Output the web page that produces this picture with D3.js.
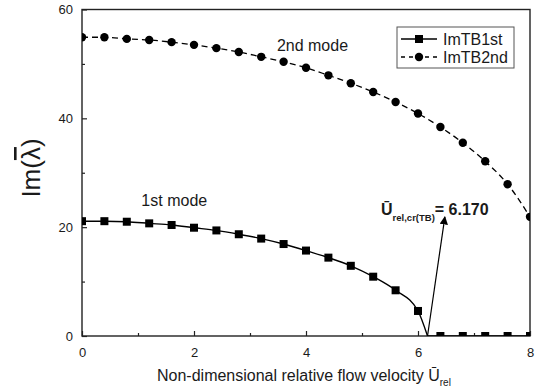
<!DOCTYPE html>
<html><head><meta charset="utf-8">
<script src="https://cdn.jsdelivr.net/npm/d3@7"></script>
<style>
body{margin:0;background:#fff;}
text{font-family:"Liberation Sans",Arial,sans-serif;fill:#1a1a1a;}
</style></head>
<body><svg id="c" width="542" height="392"></svg>
<script>
const velocity = [0,0.4,0.8,1.2,1.6,2.0,2.4,2.8,3.2,3.6,4.0,4.4,4.8,5.2,5.6,6.0,6.4,6.8,7.2,7.6,8.0];
const imTB1st = [21.1,21.1,21.0,20.7,20.4,19.9,19.4,18.7,17.9,16.9,15.7,14.4,12.9,10.9,8.4,4.6,0,0,0,0,0];
const imTB2nd = [54.9,54.9,54.6,54.4,54.0,53.5,52.9,52.2,51.3,50.4,49.3,47.9,46.45,44.85,43.0,40.9,38.4,35.5,32.1,27.9,21.9];
const criticalVelocity = 6.170;
const xTicks = [0,2,4,6,8];
const xMinor = [1,3,5,7];
const yTicks = [0,20,40,60];
const yMinor = [10,30,50];
const seriesNames = ["ImTB1st","ImTB2nd"];

const svg = d3.select("#c");
const L=82,R=530,T=9.5,B=336;
const x = d3.scaleLinear().domain([0,8]).range([L,R]);
const y = d3.scaleLinear().domain([0,60]).range([B,T]);

svg.append("clipPath").attr("id","clip").append("rect")
  .attr("x",L).attr("y",T).attr("width",R-L).attr("height",B-T);

// frame
svg.append("rect").attr("x",L).attr("y",T).attr("width",R-L).attr("height",B-T)
  .attr("fill","none").attr("stroke","#222").attr("stroke-width",1.4);

// ticks (inward)
const gx = svg.append("g").attr("transform",`translate(0,${B})`)
  .call(d3.axisBottom(x).tickValues(xTicks).tickSizeInner(-5).tickSizeOuter(0).tickPadding(12).tickFormat(d3.format("d")));
const gxm = svg.append("g").attr("transform",`translate(0,${B})`)
  .call(d3.axisBottom(x).tickValues(xMinor).tickSizeInner(-3).tickSizeOuter(0).tickFormat(""));
const gy = svg.append("g").attr("transform",`translate(${L},0)`)
  .call(d3.axisLeft(y).tickValues(yTicks).tickSizeInner(-5).tickSizeOuter(0).tickPadding(9).tickFormat(d3.format("d")));
const gym = svg.append("g").attr("transform",`translate(${L},0)`)
  .call(d3.axisLeft(y).tickValues(yMinor).tickSizeInner(-3).tickSizeOuter(0).tickFormat(""));
[gx,gxm,gy,gym].forEach(g=>{
  g.select(".domain").remove();
  g.selectAll("line").attr("stroke","#222").attr("stroke-width",1.2);
  g.selectAll("text").attr("font-size",13).attr("fill","#333").style("font-family","'Liberation Sans',Arial,sans-serif");
});

const plot = svg.append("g").attr("clip-path","url(#clip)");

// 1st mode curve to critical point
const pts1 = velocity.map((v,i)=>[v,imTB1st[i]]).filter(d=>d[0]<criticalVelocity);
pts1.push([criticalVelocity,0]);
const line = d3.line().x(d=>x(d[0])).y(d=>y(d[1]));
plot.append("path").datum(pts1).attr("fill","none").attr("stroke","#000").attr("stroke-width",1.4)
  .attr("d",line.curve(d3.curveMonotoneX));
const zeroPts = [[criticalVelocity,0]].concat(velocity.map((v,i)=>[v,imTB1st[i]]).filter(d=>d[0]>criticalVelocity));
plot.append("path").datum(zeroPts).attr("fill","none").attr("stroke","#000").attr("stroke-width",1.4)
  .attr("d",d3.line().x(d=>x(d[0])).y(d=>y(d[1])));

// 2nd mode dashed
const pts2 = velocity.map((v,i)=>[v,imTB2nd[i]]);
plot.append("path").datum(pts2).attr("fill","none").attr("stroke","#000").attr("stroke-width",1.3)
  .attr("stroke-dasharray","6,4")
  .attr("d",d3.line().x(d=>x(d[0])).y(d=>y(d[1])).curve(d3.curveMonotoneX));

// markers
const sq=8;
plot.selectAll("rect.m1").data(velocity.map((v,i)=>[v,imTB1st[i]])).enter().append("rect")
  .attr("x",d=>x(d[0])-sq/2).attr("y",d=>y(d[1])-sq/2).attr("width",sq).attr("height",sq).attr("fill","#000");
plot.selectAll("circle.m2").data(pts2).enter().append("circle")
  .attr("cx",d=>x(d[0])).attr("cy",d=>y(d[1])).attr("r",4.2).attr("fill","#000");

// mode labels
svg.append("text").attr("x",x(3.48)).attr("y",y(52.3)).attr("font-size",16).text("2nd mode");
svg.append("text").attr("x",x(1.06)).attr("y",y(23.9)).attr("font-size",16).text("1st mode");

// arrow
svg.append("defs").append("marker").attr("id","ah").attr("viewBox","0 0 10 10").attr("refX",9).attr("refY",5)
  .attr("markerWidth",7).attr("markerHeight",7).attr("orient","auto")
  .append("path").attr("d","M0,0 L10,5 L0,10 z").attr("fill","#000");
svg.append("line").attr("x1",x(criticalVelocity)).attr("y1",y(0)).attr("x2",x(6.48)).attr("y2",y(21.9))
  .attr("stroke","#000").attr("stroke-width",1.2).attr("marker-end","url(#ah)");
const ann = svg.append("text").attr("x",x(5.34)).attr("y",y(22.2)).attr("font-weight","bold").attr("font-size",16);
ann.append("tspan").text("\u016A");
ann.append("tspan").attr("font-size",9.5).attr("dy",6).text("rel,cr(TB)");
ann.append("tspan").attr("dy",-6).text("= " + criticalVelocity.toFixed(3));

// legend
const lg = svg.append("g");
lg.append("rect").attr("x",397).attr("y",27).attr("width",117).attr("height",41)
  .attr("fill","#fff").attr("stroke","#555").attr("stroke-width",1);
[0,1].forEach(i=>{
  const yy = 39+i*18;
  lg.append("line").attr("x1",401).attr("x2",437).attr("y1",yy).attr("y2",yy).attr("stroke","#000")
    .attr("stroke-width",1.3).attr("stroke-dasharray",i? "4,4":null);
  if(i===0) lg.append("rect").attr("x",419-sq/2).attr("y",yy-sq/2).attr("width",sq).attr("height",sq).attr("fill","#000");
  else lg.append("circle").attr("cx",419).attr("cy",yy).attr("r",4.2).attr("fill","#000");
  lg.append("text").attr("x",443).attr("y",yy+6).attr("font-size",16).text(seriesNames[i]);
});

// axis titles
const xt = svg.append("text").attr("x",157).attr("y",381).attr("font-size",16);
xt.append("tspan").text("Non-dimensional relative flow velocity \u016A");
xt.append("tspan").attr("font-size",10).attr("dy",5).text("rel");

const yt = svg.append("text").attr("transform","translate(40,168) rotate(-90)").attr("text-anchor","middle")
  .attr("font-size",26);
yt.append("tspan").text("Im(");
yt.append("tspan").style("text-decoration","overline").text("\u03BB");
yt.append("tspan").text(")");
</script></body></html>
